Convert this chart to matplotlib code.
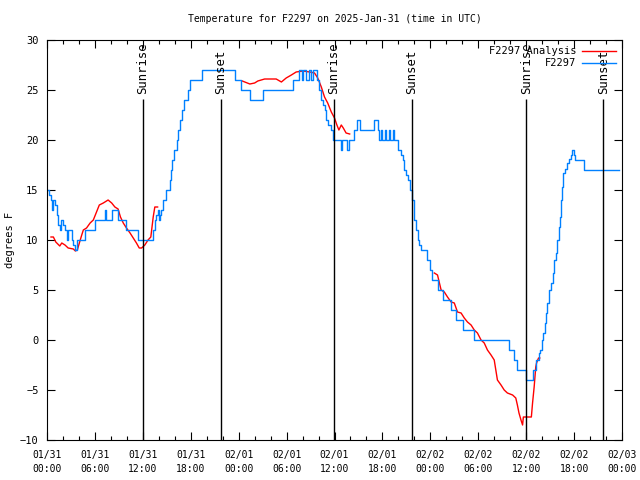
import numpy as np
import matplotlib
matplotlib.use("Agg")
import matplotlib.pyplot as plt

# hours since 2025-01-31 00:00 UTC
obs_hours = [0.0, 0.25, 0.5, 0.66, 0.79, 1.0, 1.2, 1.4, 1.6, 1.8, 2.0, 2.25, 2.45, 2.65,
             3.1, 3.3, 3.5, 3.7, 4.75, 6.0, 7.25, 7.45, 8.1, 8.9, 9.95, 11.4, 13.3, 13.5,
             13.7, 13.9, 14.05, 14.1, 14.3, 14.55, 14.85, 15.4, 15.5, 15.65, 15.9, 16.25,
             16.4, 16.6, 16.85, 17.1, 17.6, 17.9, 19.35, 23.5, 24.35, 25.4, 27.05, 30.8,
             31.6, 31.95, 32.1, 32.4, 32.75, 33.0, 33.25, 33.75, 34.1, 34.3, 34.5, 34.75,
             34.95, 35.15, 35.6, 35.8, 36.8, 37.0, 37.6, 37.8, 38.5, 38.8, 39.25, 41.0,
             41.4, 41.6, 41.8, 42.0, 42.3, 42.5, 42.8, 43.0, 43.3, 43.5, 43.9, 44.35,
             44.55, 44.75, 44.95, 45.15, 45.4, 45.65, 45.9, 46.0, 46.25, 46.4, 46.6,
             46.85, 47.55, 47.9, 48.2, 48.9, 49.55, 50.6, 51.2, 52.05, 53.5, 57.9, 58.5,
             58.9, 59.95, 60.8, 61.2, 61.55, 61.7, 61.95, 62.1, 62.3, 62.45, 62.65, 62.9,
             63.1, 63.3, 63.5, 63.7, 63.9, 64.05, 64.2, 64.35, 64.45, 64.6, 64.8, 65.15,
             65.4, 65.6, 65.8, 66.0, 66.1, 67.25, 71.6]
obs_temp = [15, 14.5, 14, 13, 14, 13.5, 12.5, 11.5, 11, 12, 11.5, 11, 10, 11,
            10, 9.5, 9, 10, 11, 12, 13, 12, 13, 12, 11, 10, 11, 12,
            12.5, 13, 12, 12.5, 13, 14, 15, 16, 17, 18, 19, 20,
            21, 22, 23, 24, 25, 26, 27, 26, 25, 24, 25, 26,
            27, 26, 27, 26, 27, 26, 27, 26, 25, 24, 23.5, 23,
            22, 21.5, 21, 20, 19, 20, 19, 20, 21, 22, 21, 22,
            21, 20, 21, 20, 21, 20, 21, 20, 21, 20, 19, 18.5,
            18, 17, 16.5, 16, 15, 14, 13, 12, 11, 10, 9.5,
            9, 8, 7, 6, 5, 4, 3, 2, 1, 0, -1, -2,
            -3, -4, -3, -2, -1.3, -1, 0, 0.7, 1.7, 2.7, 3.7, 5,
            5.7, 6.7, 8, 8.7, 10, 11.3, 12.3, 14, 15.3, 16.7, 17.1, 17.7,
            18.1, 18.5, 19, 18.5, 18, 17, 17]

ana1_hours = [0.5, 0.8, 1.1, 1.6, 1.85, 2.25, 2.65, 3.3, 3.55, 3.8, 4.05, 4.35, 4.55,
              4.95, 5.4, 5.8, 6.2, 6.55, 7.05, 7.65, 8.1, 8.5, 8.9, 9.2, 9.55, 9.95,
              10.4, 10.8, 11.2, 11.55, 11.85, 12.25, 12.65, 13.0, 13.3, 13.5, 13.85]
ana1_temp = [10.3, 10.3, 9.8, 9.4, 9.7, 9.5, 9.2, 9.1, 8.9, 9.0, 9.7, 10.5, 11,
             11.2, 11.7, 12, 12.8, 13.5, 13.7, 14, 13.7, 13.3, 13.1, 12.3, 11.7, 11.2,
             10.7, 10.2, 9.7, 9.2, 9.2, 9.5, 10, 10.3, 12.3, 13.3, 13.3]
ana2_hours = [24.45, 25.4, 26.0, 26.4, 27.25, 28.7, 29.35, 29.95, 30.6, 31.2, 32.05,
              32.9, 33.5, 33.9, 34.35, 34.75, 35.15, 35.6, 36.0, 36.3, 36.55, 36.85,
              37.1, 37.45, 37.9]
ana2_temp = [25.9, 25.6, 25.7, 25.9, 26.1, 26.1, 25.8, 26.2, 26.5, 26.8, 26.9,
             26.8, 26.7, 26.2, 25.3, 24.3, 23.7, 22.8, 22.2, 21.5, 21, 21.5,
             21.2, 20.7, 20.6]
ana3_hours = [48.5, 48.9, 49.35, 49.75, 50.15, 50.6, 51.0, 51.4, 51.85, 52.25, 52.65,
              53.1, 53.5, 53.9, 54.35, 54.75, 55.15, 55.6, 56.0, 56.2, 56.4, 56.85,
              57.25, 57.65, 58.3, 58.7, 58.9, 59.1, 59.35, 59.55, 59.65, 60.65, 60.8,
              61.0, 61.2, 61.3, 61.55, 61.7]
ana3_temp = [6.7, 6.5, 5, 4.8, 4.3, 3.8, 3.7, 2.8, 2.7, 2.2, 1.8,
             1.5, 1, 0.7, 0, -0.3, -1, -1.5, -2, -3, -4, -4.5,
             -5, -5.3, -5.5, -5.8, -6.5, -7.3, -8, -8.5, -7.7, -7.7, -6.3,
             -4.7, -2.7, -2.3, -1.8, -1.8]

sun_hours = [12.0, 21.75, 35.95, 45.65, 60.0, 69.65]
sun_labels = ["Sunrise", "Sunset", "Sunrise", "Sunset", "Sunrise", "Sunset"]

tick_hours = list(range(0, 73, 6))
tick_labels = ["01/31\n00:00", "01/31\n06:00", "01/31\n12:00", "01/31\n18:00",
               "02/01\n00:00", "02/01\n06:00", "02/01\n12:00", "02/01\n18:00",
               "02/02\n00:00", "02/02\n06:00", "02/02\n12:00", "02/02\n18:00",
               "02/03\n00:00"]

plt.rcParams['font.family'] = ['DejaVu Sans Mono']
fs = 7

fig = plt.figure(figsize=(6.4, 4.8), dpi=100)
ax = fig.add_axes([47 / 640, 40 / 480, 575 / 640, 400 / 480])

red = '#ff0000'
blue = '#0080ff'
ah = ana1_hours + [np.nan] + ana2_hours + [np.nan] + ana3_hours
at = ana1_temp + [np.nan] + ana2_temp + [np.nan] + ana3_temp
ax.plot(ah, at, color=red, lw=1.0, label='F2297 Analysis')
ax.plot(obs_hours, obs_temp, color=blue, lw=1.0, drawstyle='steps-post', label='F2297')

for h, lab in zip(sun_hours, sun_labels):
    ax.vlines(h, -10, 24.1, color='black', lw=1.0)
    ax.text(h, 24.6, lab, rotation=90, ha='center', va='bottom', fontsize=8.8)

ax.set_xlim(0, 72)
ax.set_ylim(-10, 30)
ax.set_xticks(tick_hours)
ax.set_xticklabels(tick_labels, fontsize=fs, linespacing=1.5)
ax.set_xticks(range(0, 73, 2), minor=True)
ax.set_yticks(range(-10, 31, 5))
ax.tick_params(axis='y', labelsize=fs + 0.5, pad=6)
ax.tick_params(axis='x', pad=7)
ax.tick_params(which='both', direction='in', top=True, right=True, width=0.8)
ax.tick_params(which='major', length=6)
ax.tick_params(which='minor', length=3)
for s in ax.spines.values():
    s.set_linewidth(0.8)

fig.text(10 / 640, 1 - 240 / 480, 'degrees F', rotation=90, ha='center', va='center',
         fontsize=fs + 0.5)
ax.set_title('Temperature for F2297 on 2025-Jan-31 (time in UTC)', fontsize=fs, pad=13)
ax.legend(loc='upper right', frameon=False, markerfirst=False, fontsize=fs + 0.5,
          handlelength=3.2, labelspacing=0.2, borderaxespad=0.2, handletextpad=0.6)

fig.savefig('out.png', dpi=100)
